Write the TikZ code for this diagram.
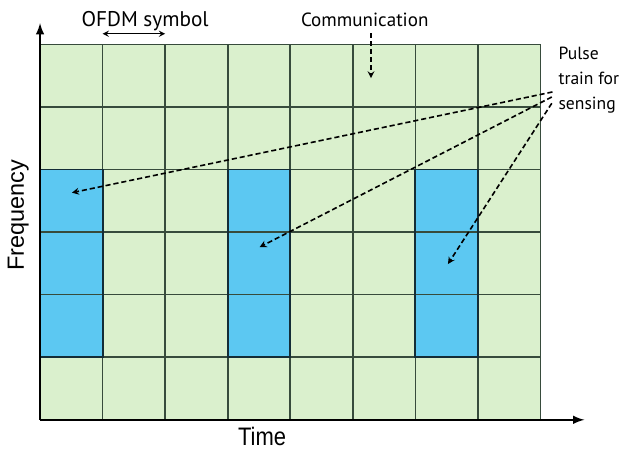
\documentclass[tikz,border=0pt]{standalone}
\usepackage{fontspec}
\setmainfont{Liberation Sans}
\newfontfamily\notefont{PT Sans}
\usepackage{tikz}
\usetikzlibrary{positioning,calc}
\definecolor{cellgreen}{RGB}{218,240,205}
\definecolor{pulseblue}{RGB}{92,200,242}
\definecolor{gridline}{RGB}{55,75,60}
\definecolor{pulseedge}{RGB}{20,45,55}
\tikzset{axis/.style={line width=1.6pt,-latex},
         note/.style={font=\notefont\fontsize{13}{17}\selectfont,inner sep=1pt},
         label/.style={font=\fontsize{16}{18}\selectfont,inner sep=1pt},
         span/.style={line width=0.9pt,<->,>=stealth}
}
\tikzstyle{arrow} = [line width=1.1pt,dash pattern=on 3.5pt off 2pt,->,>=stealth]

\begin{document}
\begin{tikzpicture}[x=1.5cm,y=1.5cm]
\useasboundingbox (-0.64,-0.48) rectangle (9.27,6.71);

% time-frequency grid
\fill[cellgreen] (0,0) rectangle (8,6);
\foreach \c in {0,3,6}
  \fill[pulseblue] (\c,1) rectangle ++(1,3);
\foreach \i in {1,...,8}
  \draw[gridline,line width=1.1pt] (\i,0)--(\i,6);
\foreach \j in {1,...,6}
  \draw[gridline,line width=1.1pt] (0,\j)--(8,\j);
\foreach \c in {0,3,6}
  \draw[pulseedge,line width=1.3pt] (\c,1) rectangle ++(1,3);

% axes
\coordinate (origin) at (0,0);
\coordinate (ytip) at (0,6.34);
\coordinate (xtip) at (8.7,0);
\draw[axis] (origin)--(ytip);
\draw[axis] (origin)--(xtip);
\node[label,rotate=90] (freq) at (-0.35,3.27) {Frequency};
\node[label,font=\fontsize{15}{17}\selectfont] (time) at (3.55,-0.27) {\scalebox{1}[1.15]{Time}};

% labels
\node[note,font=\notefont\fontsize{14.5}{17}\selectfont] (ofdm) at (1.68,6.37) {OFDM symbol};
\coordinate (symL) at (1,6.17);
\coordinate (symR) at (2,6.17);
\draw[span] (symL)--(symR);

\node[note] (comm) at (5.19,6.39) {Communication};
\coordinate (commtip) at (5.29,5.46);
\draw[arrow,shorten <=3pt] (comm.south -| commtip)--(commtip);

\node[note,font=\notefont\fontsize{12}{17}\selectfont,align=left,anchor=north west] (pulse) at (8.26,5.98) {Pulse\\train for\\sensing};
\coordinate (from1) at (8.19,5.24);
\coordinate (from2) at (8.18,5.16);
\coordinate (from3) at (8.18,5.06);
\coordinate (to1) at (0.51,3.63);
\coordinate (to2) at (3.51,2.76);
\coordinate (to3) at (6.52,2.49);
\draw[arrow] (from1)--(to1);
\draw[arrow] (from2)--(to2);
\draw[arrow] (from3)--(to3);

\end{tikzpicture}
\end{document}
